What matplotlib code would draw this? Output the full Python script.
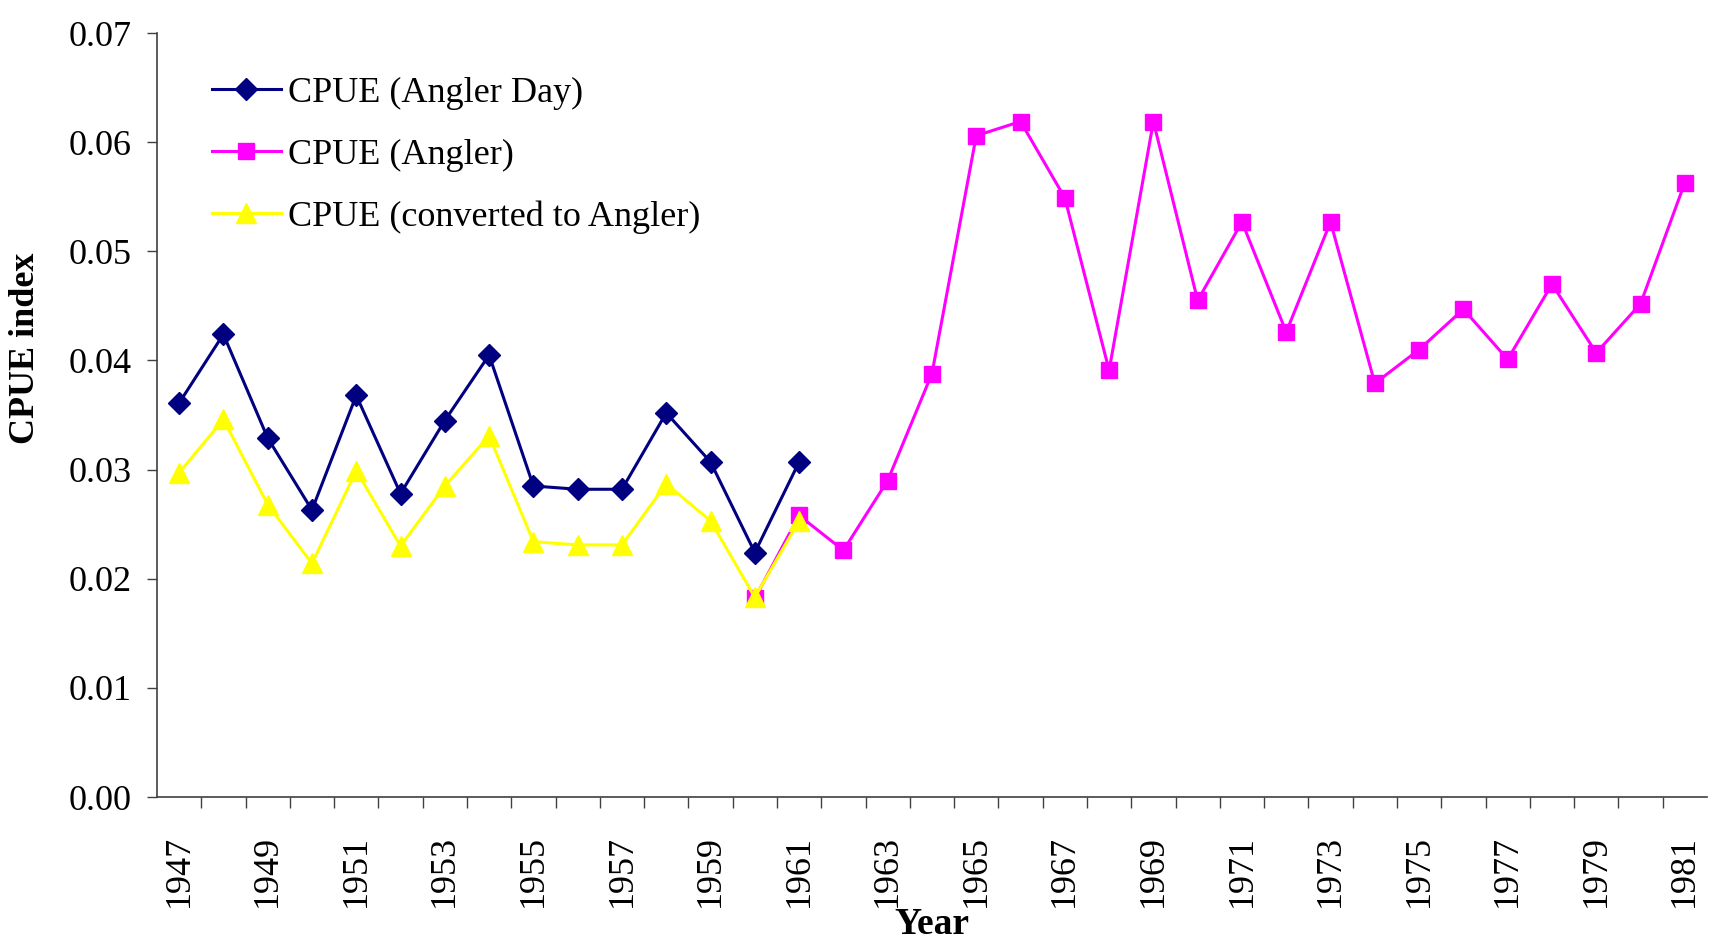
import numpy as np
import matplotlib.pyplot as plt

# CPUE series
YEARS_DAY = list(range(1947, 1962))
CPUE_ANGLER_DAY = [0.0361, 0.0424, 0.0329, 0.0263, 0.0368, 0.0278, 0.0345, 0.0405,
                   0.0285, 0.0282, 0.0282, 0.0352, 0.0307, 0.0224, 0.0307]

YEARS_ANGLER = list(range(1960, 1982))
CPUE_ANGLER = [0.0182, 0.0258, 0.0226, 0.0290, 0.0388, 0.0606, 0.0619, 0.0549,
               0.0391, 0.0619, 0.0455, 0.0527, 0.0426, 0.0527, 0.0379, 0.0410,
               0.0447, 0.0401, 0.0470, 0.0407, 0.0452, 0.0563]

YEARS_CONV = list(range(1947, 1962))
CPUE_CONVERTED = [0.0297, 0.0346, 0.0268, 0.0214, 0.0299, 0.0230, 0.0285, 0.0331,
                  0.0234, 0.0231, 0.0231, 0.0287, 0.0253, 0.0183, 0.0253]

LABELS = ["CPUE (Angler Day)", "CPUE (Angler)", "CPUE (converted to Angler)"]
YTICKS = [0.00, 0.01, 0.02, 0.03, 0.04, 0.05, 0.06, 0.07]

SERIF = ["Liberation Serif", "DejaVu Serif"]
plt.rcParams["font.family"] = SERIF

fig = plt.figure(figsize=(17.23, 9.46), dpi=100)
ax = fig.add_axes([0.0911, 0.1575, 0.8996, 0.8075])

ax.plot(YEARS_DAY, CPUE_ANGLER_DAY, color="#000080", lw=2.2, marker="D", ms=11,
        label=LABELS[0])
ax.plot(YEARS_ANGLER, CPUE_ANGLER, color="#FF00FF", lw=2.2, marker="s", ms=11.5,
        label=LABELS[1])
ax.plot(YEARS_CONV, CPUE_CONVERTED, color="#FFFF00", lw=2.2, marker="^", ms=14,
        label=LABELS[2])

ax.set_xlim(1946.5, 1981.5)
ax.set_ylim(0, 0.07)

ax.set_yticks(YTICKS)
ax.set_yticklabels([f"{v:.2f}" for v in YTICKS], fontsize=26)
ax.tick_params(axis="y", length=7, width=1, color="#404040", pad=11)

# category boundaries carry the tick marks, labels sit on every other year
ax.set_xticks(np.arange(1947.5, 1981.5, 1.0))
ax.set_xticklabels([])
ax.tick_params(axis="x", which="major", length=8, width=1, color="#404040")
label_years = list(range(1947, 1982, 2))
ax.set_xticks(label_years, minor=True)
ax.set_xticklabels([str(y) for y in label_years], minor=True, rotation=90,
                   fontsize=26)
ax.tick_params(axis="x", which="minor", length=0, pad=27)

for side in ("top", "right"):
    ax.spines[side].set_visible(False)
for side in ("left", "bottom"):
    ax.spines[side].set_color("#404040")
    ax.spines[side].set_linewidth(1.2)

ax.set_xlabel("Year", fontsize=27, fontweight="bold")
ax.xaxis.set_label_coords(0.5, -0.1790)
ax.xaxis.label.set_verticalalignment("baseline")
ax.set_ylabel("CPUE index", fontsize=26, fontweight="bold")
ax.yaxis.set_label_coords(-0.085, 0.588)
ax.yaxis.label.set_verticalalignment("center")

ax.legend(loc="upper left", bbox_to_anchor=(0.0355, 0.943), frameon=False,
          borderpad=0, borderaxespad=0, fontsize=26, handlelength=1.9,
          handletextpad=0.2, labelspacing=0.79)

fig.savefig("out.png", dpi=100)
